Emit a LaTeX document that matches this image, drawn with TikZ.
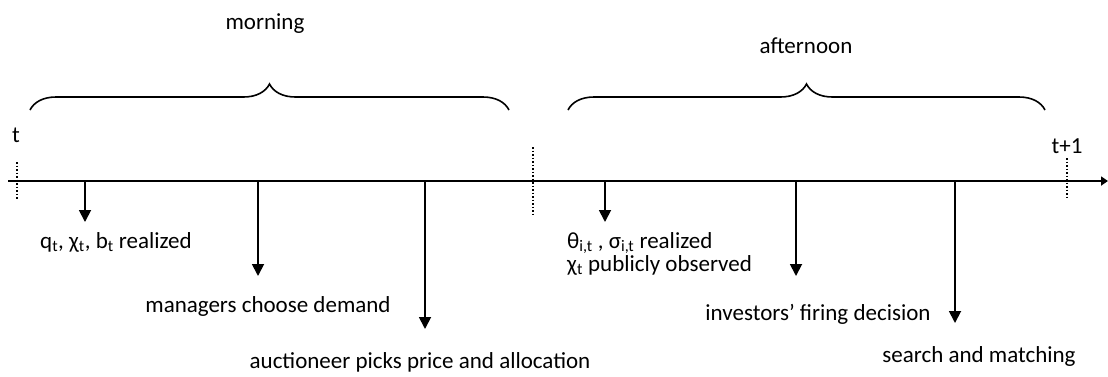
\documentclass[tikz,border=0pt]{standalone}
\usepackage{fontspec}
\setmainfont{Carlito}
\usetikzlibrary{arrows.meta,decorations.pathreplacing}
\newcommand{\sbs}[1]{\textsubscript{#1}}
\begin{document}
\begin{tikzpicture}[x=1pt,y=-1pt,
  lbl/.style={inner sep=0pt,font=\fontsize{23}{27}\selectfont},
  axis/.style={line width=1.8pt,-{Triangle[length=7pt,width=9pt]}},
  evt/.style={line width=1.8pt,-{Triangle[length=12pt,width=12pt]}},
  tick/.style={line width=1.5pt,dotted},
  brc/.style={line width=1.6pt,decorate,decoration={brace,amplitude=26pt}}]
\useasboundingbox (0,0) rectangle (1108,376);
% timeline
\coordinate (L) at (8,181);
\coordinate (R) at (1108,181);
\draw[axis] (L) -- (R);
% ticks
\coordinate (t0a) at (17,162); \coordinate (t0b) at (17,200);
\coordinate (tma) at (533,147); \coordinate (tmb) at (533,214);
\coordinate (t1a) at (1067,158); \coordinate (t1b) at (1067,197);
\draw[tick] (t0a) -- (t0b);
\draw[tick] (tma) -- (tmb);
\draw[tick] (t1a) -- (t1b);
\node[lbl] (tl) at (16,135) {t};
\node[lbl] (t1l) at (1067,146) {t+1};
% braces
\coordinate (mb1) at (30,110); \coordinate (mb2) at (509,110);
\coordinate (ab1) at (568,110); \coordinate (ab2) at (1045,110);
\draw[brc] (mb1) -- (mb2);
\draw[brc] (ab1) -- (ab2);
\node[lbl] (morning) at (265,24) {morning};
\node[lbl] (afternoon) at (806,46) {afternoon};
% events
\coordinate (e1) at (85,181); \coordinate (e1b) at (85,222);
\coordinate (e2) at (258,181); \coordinate (e2b) at (258,276);
\coordinate (e3) at (425,181); \coordinate (e3b) at (425,329);
\coordinate (e4) at (605,181); \coordinate (e4b) at (605,222);
\coordinate (e5) at (796,181); \coordinate (e5b) at (796,276);
\coordinate (e6) at (955,181); \coordinate (e6b) at (955,323);
\draw[evt] (e1) -- (e1b);
\draw[evt] (e2) -- (e2b);
\draw[evt] (e3) -- (e3b);
\draw[evt] (e4) -- (e4b);
\draw[evt] (e5) -- (e5b);
\draw[evt] (e6) -- (e6b);
\node[lbl,anchor=west] (l1) at (40,242) {q\sbs{t}, χ\sbs{t}, b\sbs{t} realized};
\node[lbl] (l2) at (268,306) {managers choose demand};
\node[lbl] (l3) at (420,362) {auctioneer picks price and allocation};
\node[lbl,anchor=west] (l4a) at (567,243) {θ\sbs{i,t} , σ\sbs{i,t} realized};
\node[lbl,anchor=west] (l4b) at (567,265) {χ\sbs{t} publicly observed};
\node[lbl] (l5) at (818,314) {investors’ firing decision};
\node[lbl] (l6) at (979,356) {search and matching};
\end{tikzpicture}
\end{document}
